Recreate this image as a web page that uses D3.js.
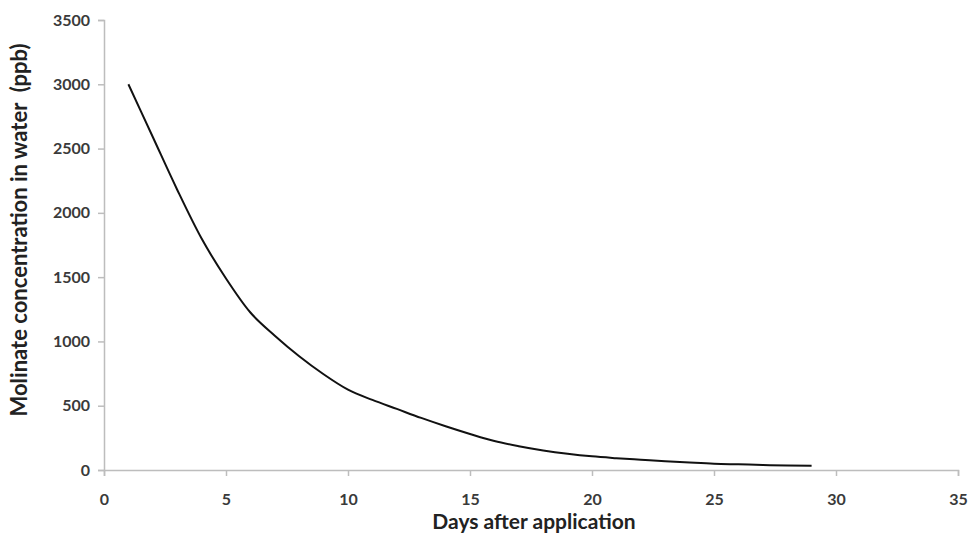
<!DOCTYPE html>
<html>
<head>
<meta charset="utf-8">
<script src="https://cdn.jsdelivr.net/npm/d3@7"></script>
<style>
  body { margin: 0; background: #fff; }
  text { font-family: Lato, "Open Sans", sans-serif; }
</style>
</head>
<body>
<div id="chart"></div>
<script>
var days = [1, 2, 3, 4, 5, 6, 7, 8, 9, 10, 11, 12, 13, 14, 15,
            16, 17, 18, 19, 20, 21, 22, 23, 24, 25, 26, 27, 28, 29];
var conc = [3000, 2590, 2180, 1800, 1490, 1225, 1045, 885, 745, 625, 545, 475, 405, 340, 280,
            225, 185, 152, 126, 106, 92, 80, 68, 58, 49, 44, 39, 35, 33];
var xTicks = [0, 5, 10, 15, 20, 25, 30, 35];
var yTicks = [0, 500, 1000, 1500, 2000, 2500, 3000, 3500];

var margin = {top: 20, right: 14, bottom: 65, left: 104},
    width = 972 - margin.left - margin.right,
    height = 535 - margin.top - margin.bottom;

var svg = d3.select("#chart")
  .append("svg")
    .attr("width", 972)
    .attr("height", 535)
  .append("g")
    .attr("transform", "translate(" + margin.left + "," + margin.top + ")");

var x = d3.scaleLinear()
  .domain([0, 35])
  .range([0, 854]);

var y = d3.scaleLinear()
  .domain([0, 3500])
  .range([height, 0]);

var xAxis = svg.append("g")
  .attr("transform", "translate(0," + height + ")")
  .call(d3.axisBottom(x).tickValues(xTicks).tickFormat(d3.format("d"))
    .tickSize(6).tickPadding(18));

var yAxis = svg.append("g")
  .call(d3.axisLeft(y).tickValues(yTicks).tickFormat(d3.format("d"))
    .tickSize(6).tickPadding(8));

[xAxis, yAxis].forEach(function(a) {
  a.select(".domain").attr("stroke", "#bdbdbd").attr("stroke-width", 1.5);
  a.selectAll(".tick line").attr("stroke", "#bdbdbd").attr("stroke-width", 1.5);
  a.selectAll(".tick text")
    .style("font-size", "16px")
    .style("font-weight", "bold")
    .attr("fill", "#3a3a3a");
});

var line = d3.line()
  .x(function(d, i) { return x(days[i]); })
  .y(function(d) { return y(d); })
  .curve(d3.curveMonotoneX);

svg.append("path")
  .datum(conc)
  .attr("d", line)
  .attr("fill", "none")
  .attr("stroke", "#111")
  .attr("stroke-width", 2);

svg.append("text")
  .attr("x", 430)
  .attr("y", height + 59)
  .attr("text-anchor", "middle")
  .style("font-size", "21px")
  .style("font-weight", "bold")
  .attr("fill", "#222")
  .text("Days after application");

svg.append("text")
  .attr("transform", "translate(-77,210) rotate(-90)")
  .attr("text-anchor", "middle")
  .style("font-size", "22px")
  .style("font-weight", "bold")
  .style("white-space", "pre")
  .attr("fill", "#222")
  .text("Molinate concentration in water  (ppb)");
</script>
</body>
</html>
